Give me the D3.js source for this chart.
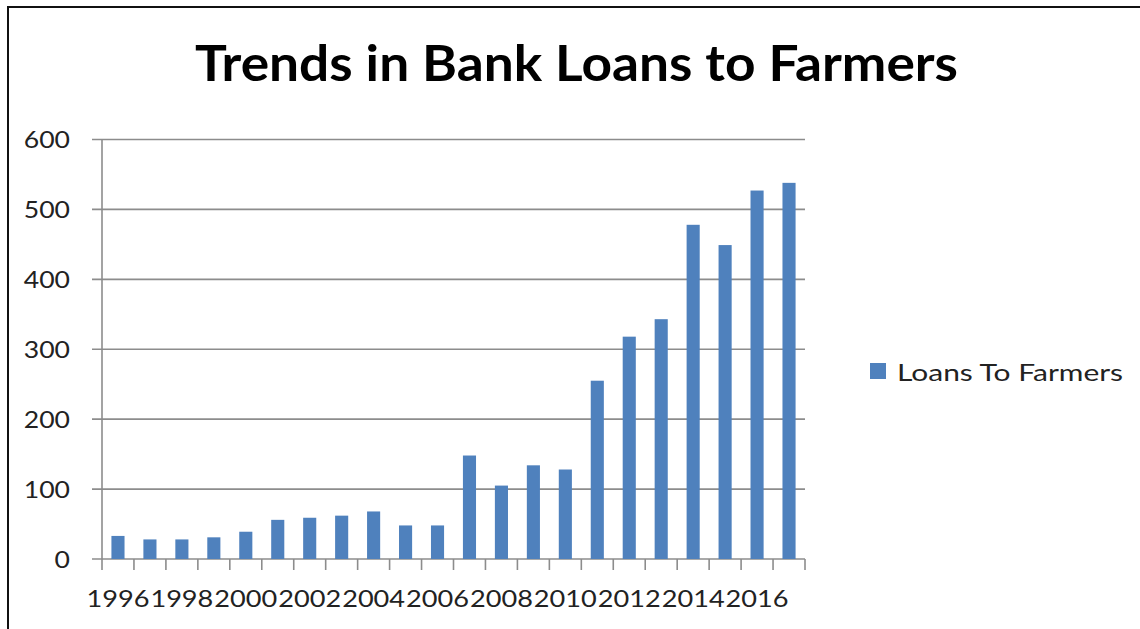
<!DOCTYPE html>
<html>
<head>
<meta charset="utf-8">
<script src="https://cdn.jsdelivr.net/npm/d3@7"></script>
<style>
  html, body { margin: 0; padding: 0; background: #fff; }
  svg { display: block; }
  text { font-family: Lato, "Open Sans", sans-serif; }
</style>
</head>
<body>
<svg id="chart" width="1140" height="629"></svg>
<script>
const title = "Trends in Bank Loans to Farmers";
const seriesName = "Loans To Farmers";
const years = ["1996","1997","1998","1999","2000","2001","2002","2003","2004","2005","2006",
               "2007","2008","2009","2010","2011","2012","2013","2014","2015","2016","2017"];
const loans = [33, 28, 28, 31, 39, 56, 59, 62, 68, 48, 48,
               148, 105, 134, 128, 255, 318, 343, 478, 449, 527, 538];
const yTicks = [0, 100, 200, 300, 400, 500, 600];
const xTickLabels = ["1996","1998","2000","2002","2004","2006","2008","2010","2012","2014","2016"];

const svg = d3.select("#chart");

// outer frame (only top and left edges visible in the crop)
svg.append("path")
  .attr("d", "M8,629 V7 H1140")
  .attr("fill", "none").attr("stroke", "#111").attr("stroke-width", 2);

const plotLeft = 102, plotRight = 805, plotTop = 139.5, plotBottom = 559;

const x = d3.scaleBand().domain(years).range([plotLeft, plotRight])
  .paddingInner(0.59).paddingOuter(0.295);
const y = d3.scaleLinear().domain([0, 600]).range([plotBottom, plotTop]);

const gridColor = "#8c8c8c";
const digitW = 15.4;

// gridlines + y ticks
svg.append("g").selectAll("line").data(yTicks).join("line")
  .attr("x1", plotLeft - 10).attr("x2", plotRight)
  .attr("y1", d => y(d)).attr("y2", d => y(d))
  .attr("stroke", gridColor).attr("stroke-width", 1.6);

// y labels
svg.append("g").selectAll("text").data(yTicks).join("text")
  .attr("x", 70).attr("y", d => y(d))
  .attr("dy", "0.36em")
  .attr("text-anchor", "end")
  .attr("font-size", 24)
  .attr("textLength", d => String(d).length * digitW)
  .attr("lengthAdjust", "spacingAndGlyphs")
  .attr("fill", "#222")
  .text(d => d);

// y axis line
svg.append("line")
  .attr("x1", plotLeft).attr("x2", plotLeft)
  .attr("y1", y(600)).attr("y2", y(0))
  .attr("stroke", gridColor).attr("stroke-width", 1.6);

// bars
svg.append("g").selectAll("rect").data(years).join("rect")
  .attr("x", (d) => x(d))
  .attr("width", x.bandwidth())
  .attr("y", (d, i) => y(loans[i]))
  .attr("height", (d, i) => y(0) - y(loans[i]))
  .attr("fill", "#4f81bd");

// x ticks at category boundaries
const step = x.step();
const boundaries = d3.range(years.length + 1).map(i => x.range()[0] + i * step);
svg.append("g").selectAll("line").data(boundaries).join("line")
  .attr("x1", d => d).attr("x2", d => d)
  .attr("y1", y(0)).attr("y2", y(0) + 11)
  .attr("stroke", gridColor).attr("stroke-width", 1.6);

// x labels
svg.append("g").selectAll("text").data(xTickLabels).join("text")
  .attr("x", d => x(d) + x.bandwidth() / 2)
  .attr("y", 607)
  .attr("text-anchor", "middle")
  .attr("font-size", 24)
  .attr("textLength", step * 2 - 1)
  .attr("lengthAdjust", "spacingAndGlyphs")
  .attr("fill", "#222")
  .text(d => d);

// title
svg.append("text")
  .attr("x", 576.5).attr("y", 81)
  .attr("text-anchor", "middle")
  .attr("font-size", 50)
  .attr("font-weight", 700)
  .attr("textLength", 763)
  .attr("lengthAdjust", "spacingAndGlyphs")
  .attr("fill", "#000")
  .text(title);

// legend
const lg = svg.append("g");
lg.append("rect").attr("x", 870).attr("y", 363).attr("width", 16).attr("height", 16).attr("fill", "#4f81bd");
lg.append("text").attr("x", 897).attr("y", 380.5)
  .attr("font-size", 24)
  .attr("textLength", 226)
  .attr("lengthAdjust", "spacingAndGlyphs")
  .attr("fill", "#222")
  .text(seriesName);
</script>
</body>
</html>
